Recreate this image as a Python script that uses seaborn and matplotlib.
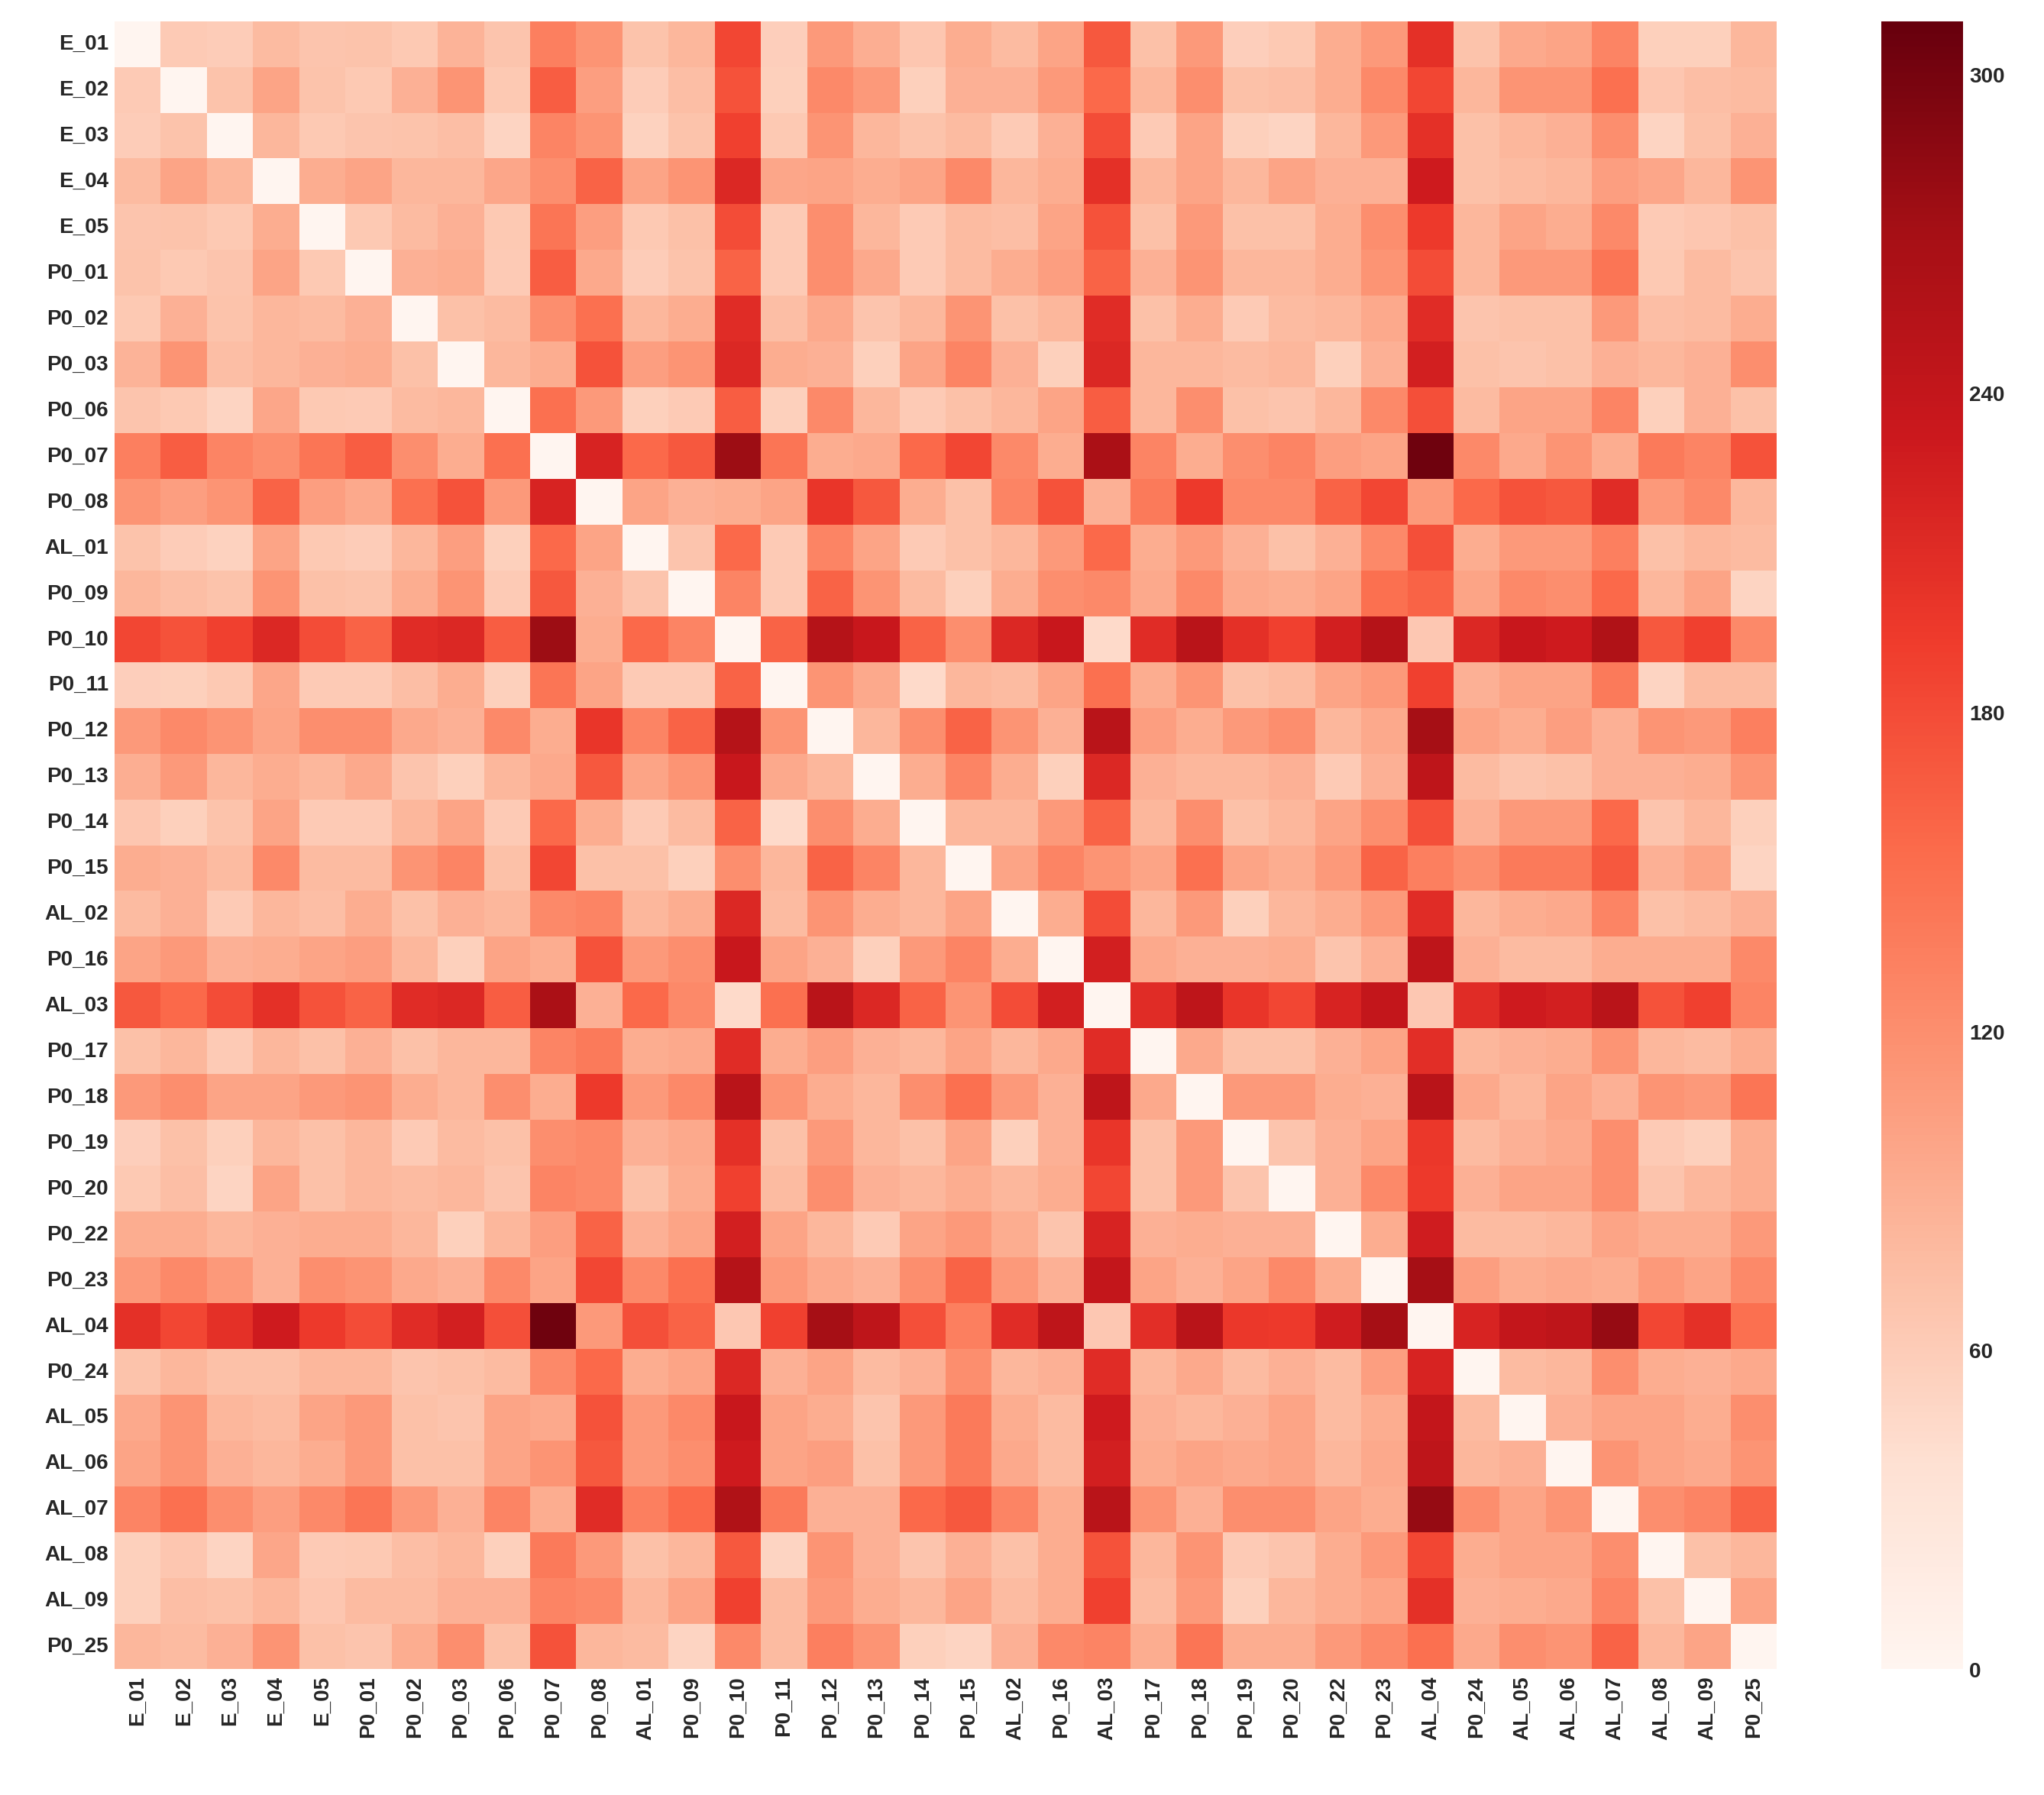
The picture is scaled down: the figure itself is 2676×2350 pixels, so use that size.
import numpy as np
import pandas as pd
import seaborn as sns
import matplotlib.pyplot as plt

labels = ['E_01', 'E_02', 'E_03', 'E_04', 'E_05', 'P0_01', 'P0_02', 'P0_03', 'P0_06',
          'P0_07', 'P0_08', 'AL_01', 'P0_09', 'P0_10', 'P0_11', 'P0_12', 'P0_13', 'P0_14',
          'P0_15', 'AL_02', 'P0_16', 'AL_03', 'P0_17', 'P0_18', 'P0_19', 'P0_20', 'P0_22',
          'P0_23', 'AL_04', 'P0_24', 'AL_05', 'AL_06', 'AL_07', 'AL_08', 'AL_09', 'P0_25']

# upper triangle of the distance matrix, row by row (diagonal first)
upper_rows = [
    [0, 62, 60, 78, 68, 70, 64, 85, 68, 135, 115, 70, 82, 185, 58, 110, 90, 66, 92, 78, 100, 170, 72, 110, 58, 64, 92, 110, 205, 70, 95, 100, 130, 56, 56, 82],
    [0, 70, 100, 70, 64, 88, 115, 64, 165, 105, 60, 75, 175, 56, 125, 110, 56, 88, 88, 110, 155, 82, 120, 72, 74, 92, 125, 185, 82, 115, 115, 150, 66, 74, 78],
    [0, 82, 64, 68, 70, 74, 52, 130, 115, 54, 70, 190, 64, 115, 82, 70, 78, 62, 88, 180, 62, 100, 56, 52, 82, 110, 205, 72, 82, 88, 120, 52, 72, 88],
    [0, 92, 100, 82, 82, 98, 120, 160, 100, 115, 215, 98, 100, 92, 100, 125, 82, 92, 205, 82, 100, 82, 100, 88, 88, 230, 72, 78, 82, 105, 98, 82, 115],
    [0, 64, 78, 88, 64, 145, 105, 64, 72, 180, 62, 120, 82, 62, 78, 74, 100, 175, 72, 110, 72, 72, 92, 120, 195, 82, 100, 92, 125, 62, 66, 72],
    [0, 88, 92, 62, 165, 95, 60, 70, 160, 62, 120, 95, 62, 78, 92, 105, 160, 88, 115, 82, 82, 92, 115, 180, 82, 110, 110, 145, 64, 78, 68],
    [0, 72, 78, 120, 150, 82, 92, 210, 74, 95, 68, 82, 115, 72, 82, 210, 72, 92, 62, 78, 82, 95, 210, 68, 72, 72, 110, 74, 78, 92],
    [0, 82, 92, 175, 105, 115, 215, 92, 88, 56, 100, 130, 88, 56, 215, 82, 82, 78, 82, 56, 88, 225, 72, 68, 72, 88, 82, 88, 120],
    [0, 150, 110, 56, 62, 165, 56, 125, 82, 62, 72, 82, 100, 165, 82, 120, 72, 68, 82, 125, 178, 78, 100, 100, 130, 56, 88, 72],
    [0, 220, 155, 170, 275, 145, 92, 95, 155, 185, 125, 92, 265, 130, 92, 120, 130, 105, 100, 305, 125, 95, 115, 92, 140, 130, 175],
    [0, 100, 88, 92, 100, 200, 170, 92, 72, 130, 175, 88, 140, 195, 125, 125, 160, 185, 110, 155, 175, 170, 210, 110, 125, 82],
    [0, 68, 155, 62, 130, 100, 62, 72, 82, 110, 155, 92, 110, 88, 72, 88, 125, 178, 92, 110, 110, 135, 72, 82, 78],
    [0, 130, 62, 160, 115, 78, 56, 92, 120, 125, 95, 125, 95, 92, 100, 150, 160, 100, 125, 120, 155, 82, 100, 52],
    [0, 160, 255, 235, 160, 120, 215, 235, 45, 210, 250, 205, 190, 225, 255, 65, 215, 235, 230, 260, 170, 190, 125],
    [0, 115, 95, 46, 82, 78, 100, 150, 92, 115, 72, 78, 100, 110, 190, 88, 100, 100, 140, 52, 78, 78],
    [0, 82, 120, 160, 115, 88, 250, 105, 92, 110, 120, 82, 95, 270, 100, 92, 105, 88, 115, 110, 135],
    [0, 92, 130, 92, 56, 215, 88, 82, 82, 88, 62, 88, 245, 78, 68, 72, 88, 88, 92, 115],
    [0, 82, 82, 110, 160, 82, 120, 72, 82, 100, 120, 178, 88, 110, 110, 155, 68, 82, 56],
    [0, 100, 130, 115, 100, 150, 100, 92, 110, 160, 135, 120, 140, 140, 170, 88, 100, 52],
    [0, 92, 180, 82, 110, 56, 82, 92, 110, 210, 82, 92, 95, 130, 72, 78, 88],
    [0, 225, 95, 88, 88, 92, 68, 88, 245, 88, 78, 78, 92, 92, 92, 125],
    [0, 210, 245, 200, 185, 220, 240, 65, 210, 230, 225, 250, 175, 190, 130],
    [0, 95, 72, 72, 88, 100, 208, 82, 88, 92, 115, 82, 78, 92],
    [0, 110, 110, 92, 88, 250, 95, 82, 100, 88, 115, 110, 145],
    [0, 68, 88, 100, 198, 78, 88, 95, 120, 62, 56, 92],
    [0, 88, 125, 195, 88, 100, 100, 120, 68, 82, 92],
    [0, 92, 228, 78, 78, 82, 100, 92, 92, 110],
    [0, 270, 105, 92, 95, 92, 110, 100, 125],
    [0, 220, 240, 245, 280, 185, 205, 150],
    [0, 78, 82, 120, 92, 88, 95],
    [0, 88, 100, 100, 92, 120],
    [0, 115, 100, 95, 115],
    [0, 120, 130, 160],
    [0, 72, 82],
    [0, 100],
    [0],
]

n = len(labels)
mat = np.zeros((n, n))
for i, row in enumerate(upper_rows):
    assert len(row) == n - i, (i, len(row))
    mat[i, i:] = row
    mat[i:, i] = row
dist = pd.DataFrame(mat, index=labels, columns=labels)

sns.set_style('white')
plt.rcParams['font.family'] = ['Liberation Sans', 'DejaVu Sans']
plt.rcParams['font.weight'] = 'bold'

fig = plt.figure(figsize=(16, 14.05), dpi=167.3)
ax = fig.add_axes([0.056, 0.07, 0.813, 0.918])
cax = fig.add_axes([0.92, 0.07, 0.04, 0.918])
sns.heatmap(dist, cmap='Reds', vmin=0, vmax=310, ax=ax, cbar_ax=cax,
            xticklabels=True, yticklabels=True,
            cbar_kws={'ticks': [0, 60, 120, 180, 240, 300]})
ax.tick_params(axis='both', labelsize=12, length=0)
plt.setp(ax.get_xticklabels(), rotation=90, fontweight='bold')
plt.setp(ax.get_yticklabels(), rotation=0, fontweight='bold')
cax.tick_params(labelsize=12, length=0)
plt.setp(cax.get_yticklabels(), fontweight='bold')
fig.savefig('out.png', dpi=167.3)
